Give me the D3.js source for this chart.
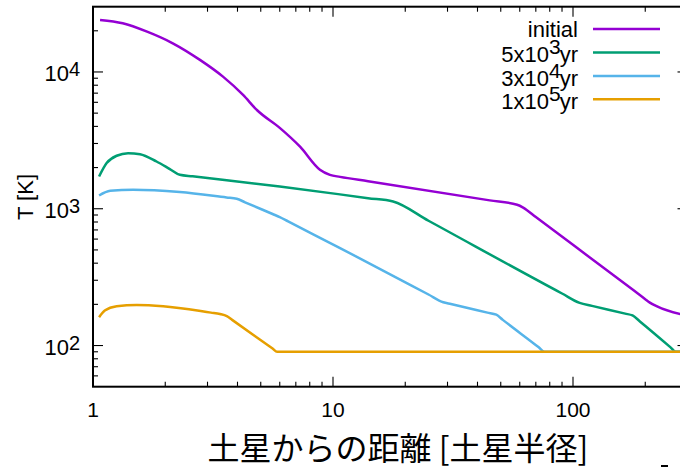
<!DOCTYPE html>
<html>
<head>
<meta charset="utf-8">
<script src="https://cdn.jsdelivr.net/npm/d3@7"></script>
<style>
  body { margin: 0; background: #fff; }
  svg { display: block; }
  text { font-family: "Liberation Sans", Arial, Helvetica, sans-serif; fill: #000; }
</style>
</head>
<body>
<svg id="chart" width="680" height="467"></svg>
<script>
// Temperature profiles vs. distance from Saturn (in Saturn radii)
const distInitial = [1.07, 1.33, 1.68, 2.15, 2.79, 3.48, 4.22, 4.83, 6.0, 7.29, 8.82, 9.71, 10.7, 14, 45, 58.5, 62, 70, 180, 200, 209, 224, 300];
const tempInitial = [24000, 22700, 19700, 16200, 12250, 9240, 6790, 5250, 3900, 2840, 1930, 1770, 1710, 1589, 1151, 1070, 1020, 869, 251, 218, 206, 193, 165];

const dist5e3 = [1.06, 1.14, 1.255, 1.40, 1.57, 1.84, 2.09, 2.30, 2.6, 6.0, 14, 17.8, 25, 90, 106.6, 120, 165, 177, 190, 255, 268, 280, 300];
const temp5e3 = [1720, 2157, 2440, 2550, 2506, 2215, 1950, 1770, 1726, 1456, 1195, 1130, 817, 240, 205, 195, 171, 166, 150, 97, 90, 90, 90];

const dist3e4 = [1.06, 1.18, 1.47, 2.30, 3.6, 3.97, 4.3, 5.6, 6.0, 6.5, 10.7, 25, 28.8, 31, 44, 47.9, 51, 72, 76, 80, 300];
const temp3e4 = [1250, 1352, 1377, 1324, 1208, 1183, 1115, 915, 869, 808, 516, 236, 207, 201, 174, 168, 154, 97, 90, 90, 90];

const dist1e5 = [1.06, 1.12, 1.255, 1.52, 1.96, 3.1, 3.38, 3.61, 3.8, 5.6, 5.85, 6.2, 300];
const temp1e5 = [161, 180, 194, 198, 194, 174, 170, 164, 154, 95, 90, 90, 90];

const seriesNames = ["initial", "5x10^3yr", "3x10^4yr", "1x10^5yr"];
const seriesColors = ["#9400d3", "#009e73", "#56b4e9", "#e69f00"];

const xMajorTicks = [1, 10, 100];
const xTickLabels = ["1", "10", "100"];
const yMajorTicks = [100, 1000, 10000];
const yTickExponents = ["2", "3", "4"];

const xLabel = "土星からの距離 [土星半径]";
const yLabel = "T [K]";

const series = [
  { name: seriesNames[0], color: seriesColors[0], xs: distInitial, ys: tempInitial },
  { name: seriesNames[1], color: seriesColors[1], xs: dist5e3, ys: temp5e3 },
  { name: seriesNames[2], color: seriesColors[2], xs: dist3e4, ys: temp3e4 },
  { name: seriesNames[3], color: seriesColors[3], xs: dist1e5, ys: temp1e5 }
];

const svg = d3.select("#chart");
const plotLeft = 93, plotTop = 6.7, plotBottom = 386.7;
const decade = 240;
const plotRight = plotLeft + decade * Math.log10(300);

const x = d3.scaleLog().domain([1, 300]).range([plotLeft, plotRight]);
const y = d3.scaleLog().domain([50, 30000]).range([plotBottom, plotTop]);

svg.append("defs").append("clipPath").attr("id", "plot")
  .append("rect").attr("x", plotLeft).attr("y", plotTop)
  .attr("width", plotRight - plotLeft).attr("height", plotBottom - plotTop);

// minor tick positions
const xMinor = [];
for (const d of [1, 10, 100]) for (let k = 2; k <= 9; k++) if (d * k < 300) xMinor.push(d * k);
const yMinor = [];
for (const d of [10, 100, 1000, 10000]) for (let k = 2; k <= 9; k++) {
  const v = d * k; if (v > 50 && v < 30000) yMinor.push(v);
}

const tickG = svg.append("g").attr("stroke", "#000").attr("stroke-width", 1.1);
const majLen = 10, minLen = 5;
// x ticks bottom and top
xMajorTicks.forEach(v => {
  tickG.append("line").attr("x1", x(v)).attr("x2", x(v)).attr("y1", plotBottom).attr("y2", plotBottom - majLen);
  tickG.append("line").attr("x1", x(v)).attr("x2", x(v)).attr("y1", plotTop).attr("y2", plotTop + majLen);
});
xMinor.forEach(v => {
  tickG.append("line").attr("x1", x(v)).attr("x2", x(v)).attr("y1", plotBottom).attr("y2", plotBottom - minLen);
  tickG.append("line").attr("x1", x(v)).attr("x2", x(v)).attr("y1", plotTop).attr("y2", plotTop + minLen);
});
// y ticks left and right
yMajorTicks.forEach(v => {
  tickG.append("line").attr("y1", y(v)).attr("y2", y(v)).attr("x1", plotLeft).attr("x2", plotLeft + majLen);
  tickG.append("line").attr("y1", y(v)).attr("y2", y(v)).attr("x1", plotRight).attr("x2", plotRight - majLen);
});
yMinor.forEach(v => {
  tickG.append("line").attr("y1", y(v)).attr("y2", y(v)).attr("x1", plotLeft).attr("x2", plotLeft + minLen);
  tickG.append("line").attr("y1", y(v)).attr("y2", y(v)).attr("x1", plotRight).attr("x2", plotRight - minLen);
});

// data lines
const line = d3.line().x(d => x(d[0])).y(d => y(d[1])).curve(d3.curveMonotoneX);
const lineG = svg.append("g").attr("clip-path", "url(#plot)");
series.forEach(s => {
  lineG.append("path")
    .datum(s.xs.map((v, i) => [v, s.ys[i]]))
    .attr("fill", "none").attr("stroke", s.color)
    .attr("stroke-width", 2.5).attr("stroke-linejoin", "round")
    .attr("d", line);
});

// border
svg.append("rect").attr("x", plotLeft).attr("y", plotTop)
  .attr("width", plotRight - plotLeft).attr("height", plotBottom - plotTop)
  .attr("fill", "none").attr("stroke", "#000").attr("stroke-width", 2);

// x tick labels
xMajorTicks.forEach((v, i) => {
  svg.append("text").attr("x", x(v)).attr("y", 417)
    .attr("text-anchor", "middle").attr("font-size", 21).text(xTickLabels[i]);
});

// y tick labels: 10 with exponent
yMajorTicks.forEach((v, i) => {
  const t = svg.append("text").attr("x", plotLeft - 13).attr("y", y(v) + 9.5)
    .attr("text-anchor", "end").attr("font-size", 22);
  t.append("tspan").text("10");
  t.append("tspan").attr("dy", -5).attr("font-size", 20).text(yTickExponents[i]);
});

// axis titles
svg.append("text")
  .attr("transform", `translate(33,197) rotate(-90)`)
  .attr("text-anchor", "middle").attr("font-size", 22).text(yLabel);

svg.append("text").attr("x", 398).attr("y", 460)
  .attr("text-anchor", "middle").attr("font-size", 32)
  .style("font-family", '"Noto Sans CJK JP", "Noto Sans CJK SC", sans-serif')
  .text(xLabel);

// legend
const legTextX = 578, legLineX1 = 593, legLineX2 = 660;
series.forEach((s, i) => {
  const ly = 29 + i * 23.45;
  svg.append("line").attr("x1", legLineX1).attr("x2", legLineX2)
    .attr("y1", ly).attr("y2", ly)
    .attr("stroke", s.color).attr("stroke-width", 2.5);
  const parts = s.name.match(/^(.*)\^(\d)(.*)$/);
  const t = svg.append("text").attr("x", legTextX)
    .attr("text-anchor", "end").attr("font-size", 22);
  if (parts) {
    t.attr("y", ly + 10);
    t.append("tspan").text(parts[1]);
    t.append("tspan").attr("dy", -8).attr("font-size", 21).text(parts[2]);
    t.append("tspan").attr("dy", 8).attr("dx", -1).text(parts[3]);
  } else {
    t.attr("y", ly + 7.7).text(s.name);
  }
});

// short mark at the lower right edge
svg.append("rect").attr("x", 661).attr("y", 465).attr("width", 7).attr("height", 2).attr("fill", "#000");
</script>
</body>
</html>
